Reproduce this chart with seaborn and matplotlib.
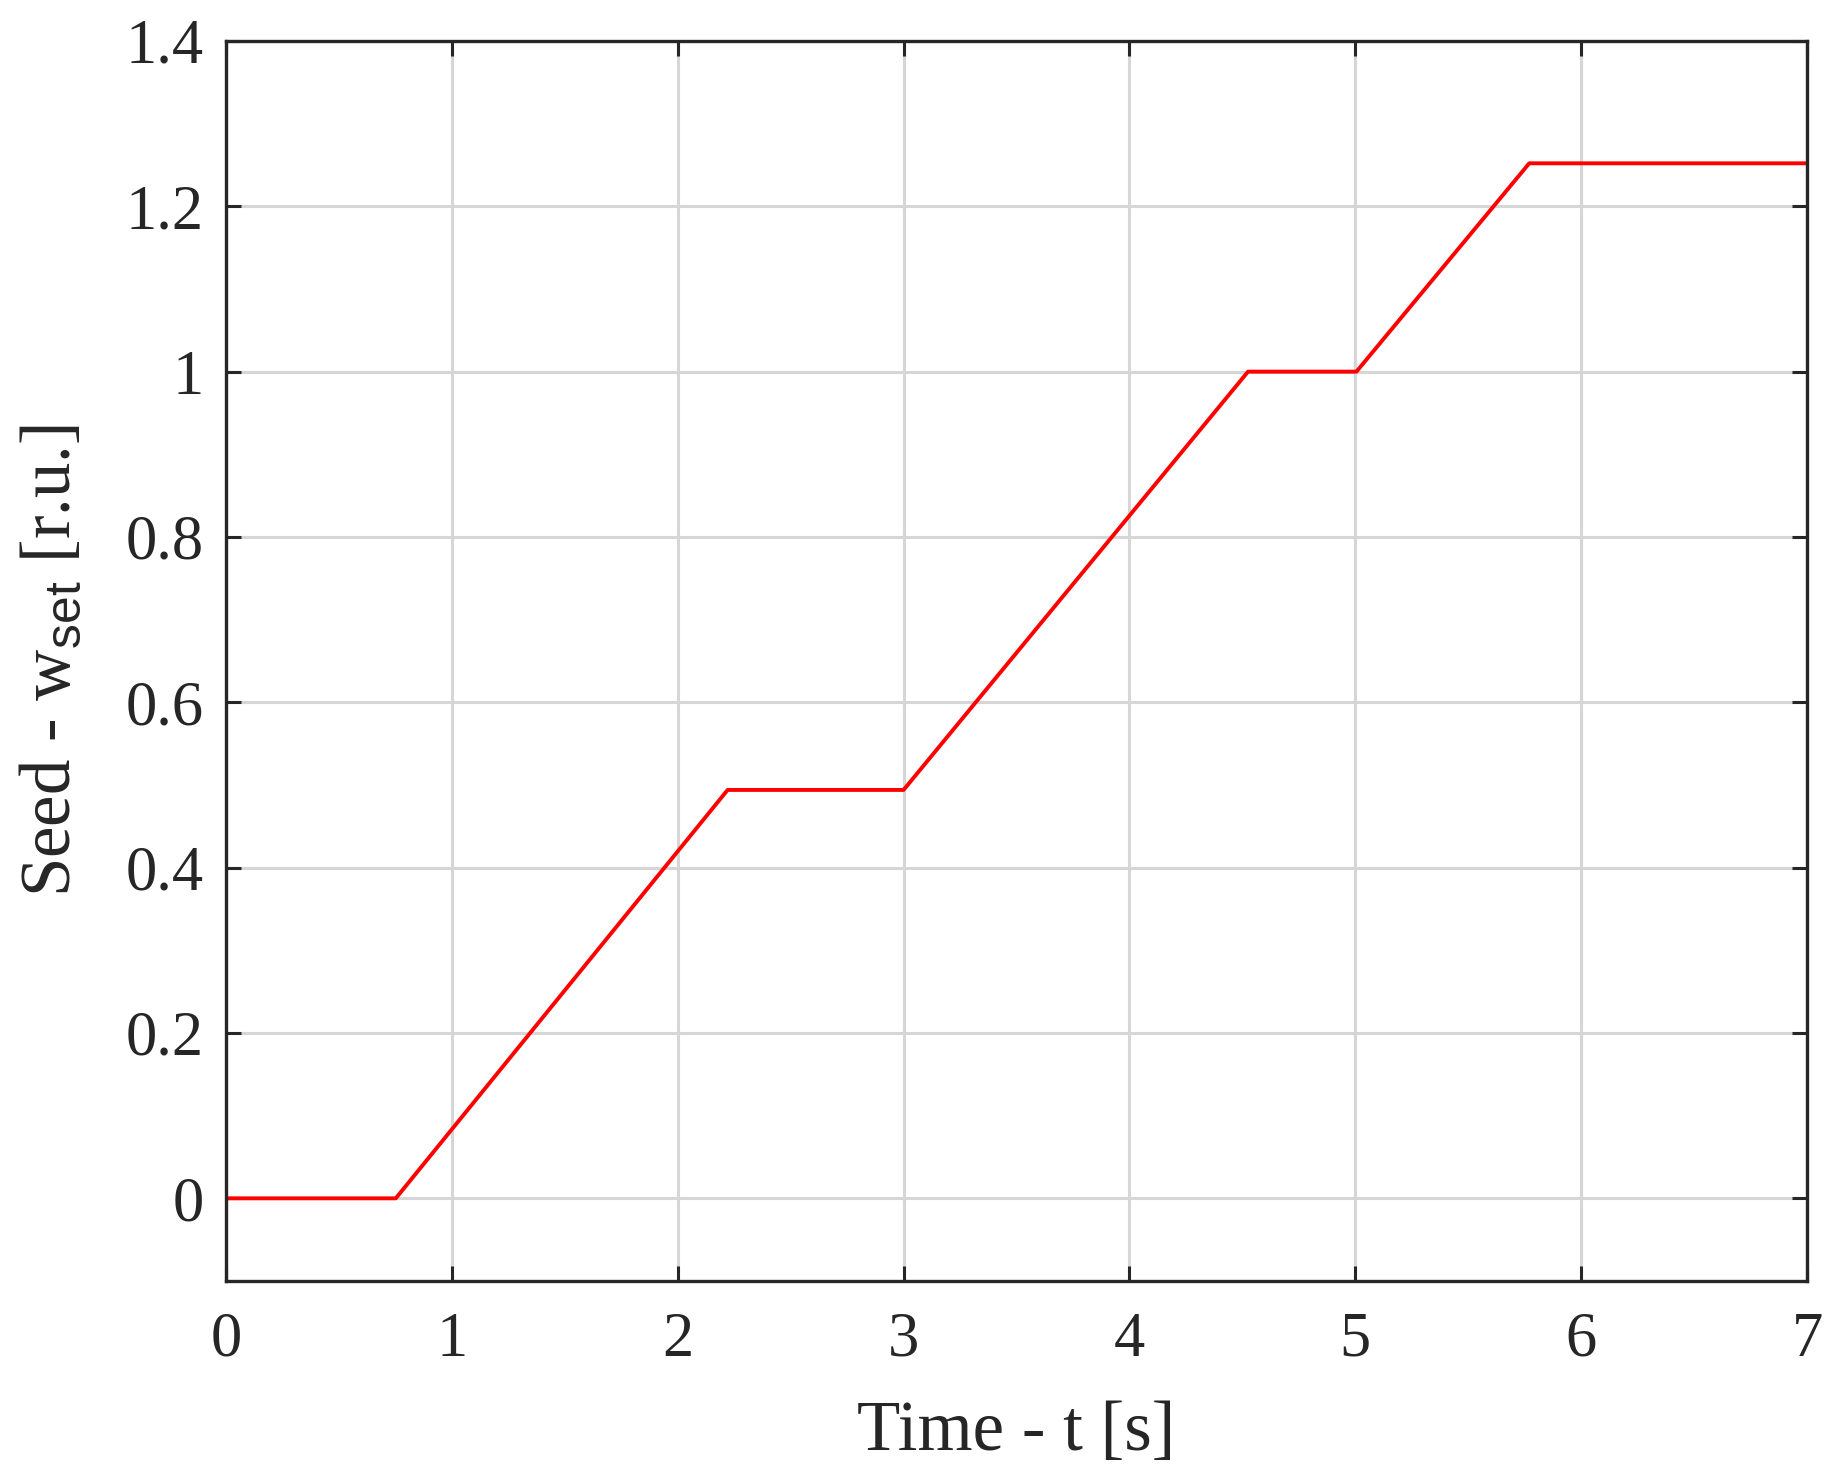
import pandas as pd
import seaborn as sns
import matplotlib.pyplot as plt

# 转折点
time_s = [0.0, 0.752, 2.221, 3.0, 4.525, 5.005, 5.77, 7.0]
speed_ru = [0.0, 0.0, 0.494, 0.494, 1.0, 1.0, 1.252, 1.252]

x_ticks = [0, 1, 2, 3, 4, 5, 6, 7]
y_ticks = [0, 0.2, 0.4, 0.6, 0.8, 1, 1.2, 1.4]
y_tick_labels = ['0', '0.2', '0.4', '0.6', '0.8', '1', '1.2', '1.4']


def main():
    df = pd.DataFrame({'t': time_s, 'w': speed_ru})

    sns.set_style("ticks")
    plt.rcParams['font.family'] = ['Liberation Serif', 'DejaVu Serif']
    plt.rcParams['mathtext.fontset'] = 'custom'
    plt.rcParams['mathtext.rm'] = 'Liberation Serif'
    plt.rcParams['mathtext.sf'] = 'Liberation Sans'

    fig = plt.figure(figsize=(18.37, 14.84), dpi=100)
    ax = fig.add_axes([0.123, 0.1368, 0.8607, 0.8356])

    sns.lineplot(data=df, x='t', y='w', color='#ff0000', linewidth=2.8, ax=ax,
                 estimator=None, sort=False)

    ax.set_xlim(0, 7)
    ax.set_ylim(-0.1, 1.4)
    ax.set_xticks(x_ticks)
    ax.set_xticklabels([str(v) for v in x_ticks])
    ax.set_yticks(y_ticks)
    ax.set_yticklabels(y_tick_labels)

    ax.grid(True, color='#d6d6d6', linewidth=2.2)
    ax.set_axisbelow(True)
    ax.tick_params(direction='in', length=11, width=2.2, labelsize=45,
                   colors='#262626', top=True, right=True)
    ax.tick_params(axis='x', pad=22)
    ax.tick_params(axis='y', pad=16)
    for sp in ax.spines.values():
        sp.set_visible(True)
        sp.set_linewidth(2.4)
        sp.set_color('#262626')

    ax.set_xlabel('Time - t [s]', fontsize=51, color='#262626', labelpad=22)
    ax.set_ylabel(r'Seed - w$_{\mathsf{set}}$ [r.u.]', fontsize=51, color='#262626', labelpad=30)

    fig.savefig('out.png', dpi=100, facecolor='white')


if __name__ == '__main__':
    main()
